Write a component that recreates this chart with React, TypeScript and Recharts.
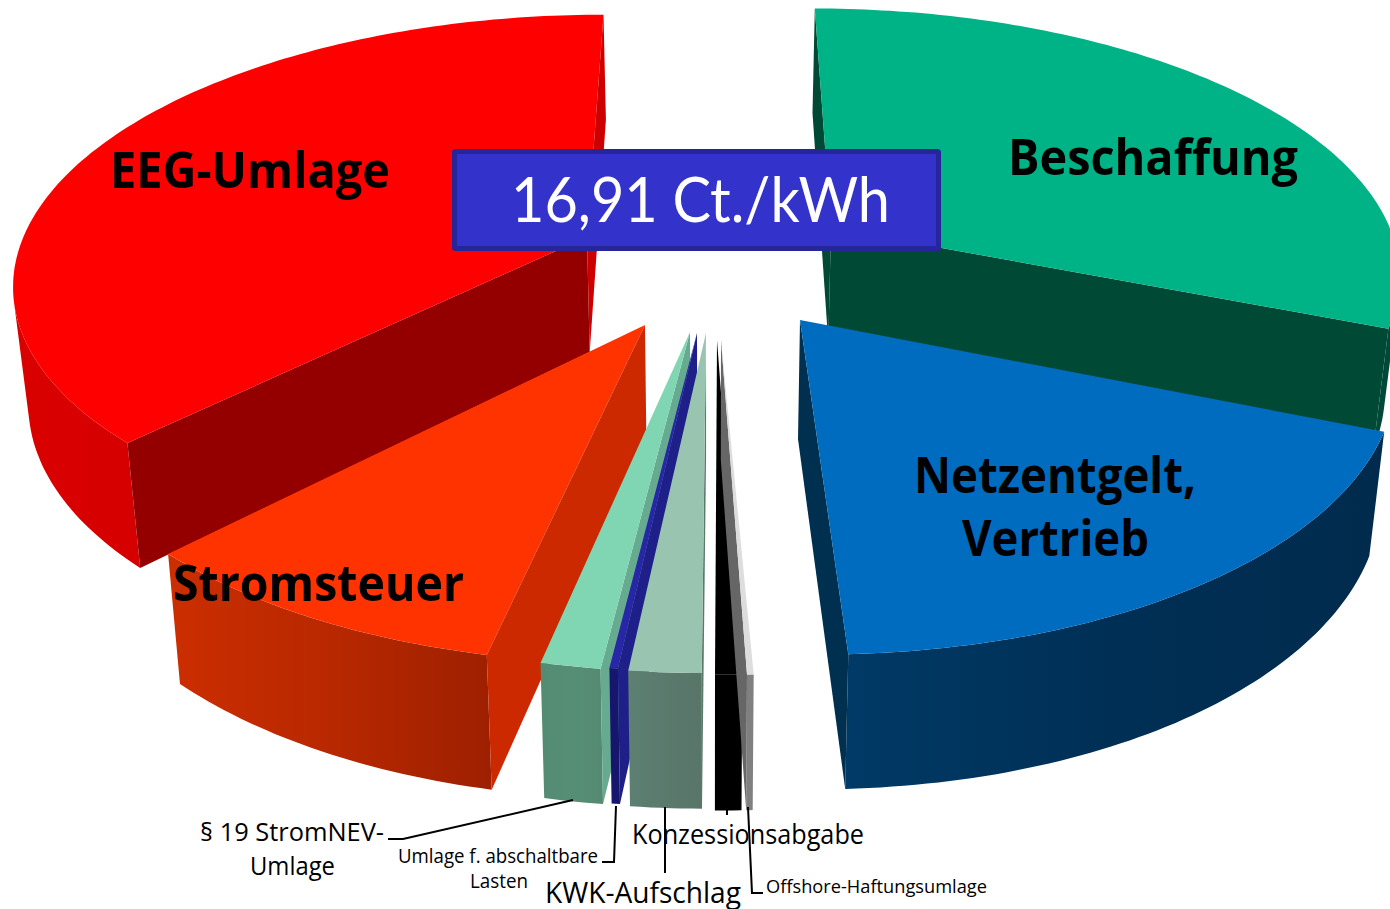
import React from "react";
import { PieChart, Pie } from "recharts";

// Values in ct/kWh (total 16,91). Order = counter-clockwise from Beschaffung.
const names = ["Beschaffung", "EEG-Umlage", "Stromsteuer", "§ 19 StromNEV-Umlage", "Umlage f. abschaltbare Lasten", "KWK-Aufschlag", "Konzessionsabgabe", "Offshore-Haftungsumlage", "Netzentgelt, Vertrieb"];
const values = [5.261, 6.365, 1.527, 0.235, 0.033, 0.282, 0.106, 0.026, 3.075];
const totalLabel = "16,91 Ct./kWh";

const W = 1390, H = 909;
const CX = 710, CY = 285, RX = 580, RY = 272, K = 0.16, DEPTH = 120, SHRINK = 0.978;

// Styles per slice, by index
const apexes: [number, number][] = [[831, 228], [587, 237], [645, 325], [690, 332], [697, 333], [706, 333], [717, 340], [721, 340], [800, 320]];
const radiusScale = [0.997, 1, 0.995, 0.99, 0.985, 0.99, 0.97, 0.97, 0.99];
const topFill = ["#00b386", "#ff0000", "#ff3300", "#80d6b3", "#2626a6", "#99c4b0", "#000000", "#dddddd", "#006cbf"];
const cutFill: [string, string][] = [
  ["#004a35", "#004a35"], ["#940000", "#cc0000"], ["#cc2900", "#cc2900"], ["#66ab8f", "#66ab8f"], ["#1f1f8a", "#1f1f8a"],
  ["#5a7a6c", "#5a7a6c"], ["#000000", "#000000"], ["#666666", "#666666"], ["#002f52", "#003050"],
];
const arcStops: string[][] = [
  ["#00493a", "#00493a", "#00493a"], ["#da0000", "#d00000", "#c40000"], ["#cc2e00", "#b82800", "#9e2000"], ["#548c73", "#568e75", "#558a72"],
  ["#16166e", "#16166e", "#16166e"], ["#5c8072", "#5a7a6c", "#587568"], ["#000000", "#000000", "#000000"], ["#808080", "#808080", "#808080"], ["#003a66", "#002f55", "#002b4d"],
];

const project = (X: number, Y: number, bottom: boolean): [number, number] => {
  const w = 1 - K * Y;
  const x = (RX * X) / w;
  const y = (RY * Y) / w;
  if (!bottom) return [CX + x, CY + y];
  return [CX + x * SHRINK, CY + (y + DEPTH / w) * SHRINK];
};
const unproject = (sx: number, sy: number): [number, number] => {
  const v = sy - CY;
  const Y = v / (RY + K * v);
  return [((sx - CX) * (1 - K * Y)) / RX, Y];
};
const toPath = (pts: [number, number][]) => "M" + pts.map((p) => p[0].toFixed(1) + " " + p[1].toFixed(1)).join("L") + "Z";
const area = (pts: [number, number][]) => pts.reduce((s, p, i) => {
  const q = pts[(i + 1) % pts.length];
  return s + p[0] * q[1] - q[0] * p[1];
}, 0);

const Slice3D = (props: any) => {
  const i = names.indexOf(props.name ?? props.payload?.name);
  const a = 90 - props.startAngle;
  const b = 90 - props.endAngle;
  const t1 = Math.min(a, b); // clockwise from top
  const t2 = Math.max(a, b);
  const [ax, ay] = unproject(apexes[i][0], apexes[i][1]);
  const rim: [number, number][] = [];
  const n = Math.max(2, Math.ceil(t2 - t1));
  const r = radiusScale[i];
  for (let j = 0; j <= n; j++) {
    const t = ((t1 + ((t2 - t1) * j) / n) * Math.PI) / 180;
    rim.push([ax + r * Math.sin(t), ay - r * Math.cos(t)]);
  }
  const top = rim.map((p) => project(p[0], p[1], false));
  const bot = rim.map((p) => project(p[0], p[1], true));
  const aTop = project(ax, ay, false);
  const aBot = project(ax, ay, true);
  const low: [number, number][] = [aTop, top[0], bot[0], aBot];
  const high: [number, number][] = [aTop, top[n], bot[n], aBot];
  const quads: [number, number][][] = [];
  for (let j = 0; j < n; j++) {
    const q: [number, number][] = [top[j], top[j + 1], bot[j + 1], bot[j]];
    if (area(q) < 0) quads.push(q);
  }
  const xs = [...top, ...bot].map((p) => p[0]);
  const gid = "arc" + i;
  return (
    <g>
      <defs>
        <linearGradient id={gid} gradientUnits="userSpaceOnUse" x1={Math.min(...xs)} x2={Math.max(...xs)} y1={0} y2={0}>
          {arcStops[i].map((c, j) => <stop key={j} offset={j / (arcStops[i].length - 1)} stopColor={c} />)}
        </linearGradient>
      </defs>
      {quads.length > 0 && <path d={quads.map(toPath).join("")} fill={`url(#${gid})`} />}
      {area(low) < 0 && <path d={toPath(low)} fill={cutFill[i][0]} />}
      {area(high) > 0 && <path d={toPath(high)} fill={cutFill[i][1]} />}
      <path d={toPath([aTop, ...top])} fill={topFill[i]} />
    </g>
  );
};

const data = names.map((name, i) => ({ name, value: values[i] }));

const Label = ({ x, x2, y, size, bold, fill, children, family }: any) => (
  <text x={x} y={y} fontSize={size} fontFamily={family ?? "'Open Sans', sans-serif"} fontWeight={bold ? 700 : 400} fill={fill ?? "#000"}
    textLength={x2 - x} lengthAdjust="spacingAndGlyphs">{children}</text>
);

const leaders = [
  "M573 800L403 839L388 839",
  "M616 806L614 862L602 862",
  "M665 807L665 873",
  "M727 807L727 815",
  "M748 807L752 893L763 893",
];

export default function App() {
  return (
    <div style={{ position: "absolute", left: 0, top: 0, width: W, height: H, overflow: "hidden", background: "#fff" }}>
      <PieChart width={W} height={H} margin={{ top: 0, right: 0, bottom: 0, left: 0 }}>
        <Pie data={data} dataKey="value" nameKey="name" cx={CX} cy={CY} innerRadius={0} outerRadius={RX}
          startAngle={-22} endAngle={338} paddingAngle={0} stroke="none" isAnimationActive={false} legendType="none"
          shape={Slice3D} />
      </PieChart>
      <svg width={W} height={H} style={{ position: "absolute", left: 0, top: 0 }}>
        <rect x={454.5} y={151.5} width={484} height={97} fill="#3333cc" stroke="#26269a" strokeWidth={5} rx={1} />
        <Label x={511} x2={890} y={222} size={62} fill="#fff" family="Lato, sans-serif">{totalLabel}</Label>
        <Label x={110} x2={390} y={188} size={50} bold>EEG-Umlage</Label>
        <Label x={1008} x2={1298} y={175} size={50} bold>Beschaffung</Label>
        <Label x={914} x2={1196} y={493} size={50} bold>Netzentgelt,</Label>
        <Label x={962} x2={1149} y={556} size={50} bold>Vertrieb</Label>
        <Label x={173} x2={464} y={601} size={50} bold>Stromsteuer</Label>
        <Label x={200} x2={384} y={841} size={26}>§ 19 StromNEV-</Label>
        <Label x={250} x2={335} y={875} size={26}>Umlage</Label>
        <Label x={398} x2={598} y={863} size={20}>Umlage f. abschaltbare</Label>
        <Label x={470} x2={528} y={888} size={20}>Lasten</Label>
        <Label x={545} x2={741} y={903} size={29}>KWK-Aufschlag</Label>
        <Label x={632} x2={864} y={844} size={27}>Konzessionsabgabe</Label>
        <Label x={766} x2={987} y={893} size={19}>Offshore-Haftungsumlage</Label>
        {leaders.map((d) => <path key={d} d={d} fill="none" stroke="#000" strokeWidth={2} />)}
      </svg>
    </div>
  );
}
